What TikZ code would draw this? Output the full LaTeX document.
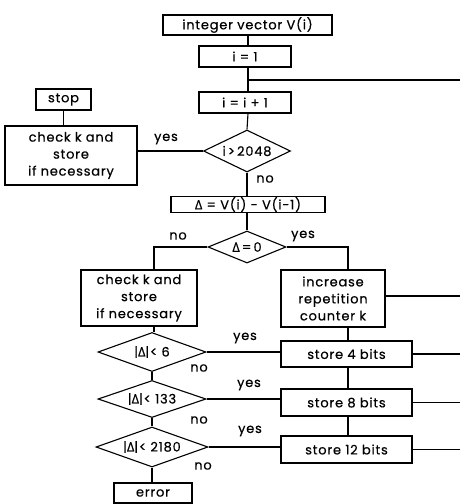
\documentclass[tikz,border=0pt]{standalone}
\usepackage{fontspec}
\setmainfont{Poppins}[LetterSpace=6,FakeBold=0.5]
\newfontfamily\grk{Open Sans}[LetterSpace=6,FakeBold=0.5]
\usetikzlibrary{shapes.geometric}
\newcommand{\Dl}{{\grk Δ}}
\newcommand{\mainfs}{\fontsize{13}{17}\selectfont}
\begin{document}
\begin{tikzpicture}[x=1pt,y=-1pt,
  box/.style={draw, line width=1.1pt, rectangle, inner sep=1pt, font=\mainfs, align=center},
  dia/.style={draw, line width=1.1pt, diamond, shape aspect=2.8, inner sep=0pt, font=\mainfs},
  lbl/.style={font=\mainfs, inner sep=0pt},
  conn/.style={line width=1.1pt}]
\useasboundingbox (0,0) rectangle (460,504);
% boxes
\node[box, minimum width=169pt, minimum height=20pt] (top) at (247.5,25) {integer vector V(i)};
\node[box, minimum width=92pt, minimum height=21pt] (i1) at (245,56.5) {i = 1};
\node[box, minimum width=92pt, minimum height=21pt] (i2) at (245,102.5) {i = i + 1};
\node[box, minimum width=55pt, minimum height=21pt] (stop) at (63.5,99.5) {stop};
\node[box, minimum width=132pt, minimum height=59pt] (checkA) at (71,155.5) {check k and\\store\\if necessary};
\node[dia, minimum width=87pt, minimum height=42pt] (d1) at (247,151) {i\,>\,2048};
\node[box, inner sep=0pt, minimum width=154pt, minimum height=16pt] (delta) at (248,204.5) {\Dl\ = V(i) - V(i-1)};
\node[dia, minimum width=78pt, minimum height=32pt] (d2) at (247,247) {\Dl\,=\,0};
\node[box, minimum width=116pt, minimum height=56pt] (checkB) at (139,298) {check k and\\store\\if necessary};
\node[box, minimum width=104pt, minimum height=57pt] (inc) at (333,298.5) {increase\\repetition\\counter k};
\node[box, minimum width=131pt, minimum height=26pt] (s4) at (346.5,354) {store 4 bits};
\node[box, minimum width=131pt, minimum height=27pt] (s8) at (346.5,402.5) {store 8 bits};
\node[box, minimum width=131pt, minimum height=27pt] (s12) at (346.5,449.5) {store 12 bits};
\node[dia, minimum width=108pt, minimum height=39pt] (d3) at (152,352) {|\Dl|< 6};
\node[dia, minimum width=108pt, minimum height=37pt] (d4) at (152,399) {|\Dl|< 133};
\node[dia, minimum width=112pt, minimum height=40pt] (d5) at (152,447) {|\Dl|< 2180};
\node[box, minimum width=78pt, minimum height=20pt] (err) at (153,493) {error};
% labels
\node[lbl] (yes1) at (166,139) {yes};
\node[lbl] (no1) at (265,179) {no};
\node[lbl] (no2) at (178,236) {no};
\node[lbl] (yes2) at (303,236) {yes};
\node[lbl] (yes3) at (245,338) {yes};
\node[lbl] (no3) at (199,368) {no};
\node[lbl] (yes4) at (249,385) {yes};
\node[lbl] (no4) at (199,420) {no};
\node[lbl] (yes5) at (250,431) {yes};
\node[lbl] (no5) at (203,466) {no};
% coordinates
\coordinate (j1) at (248,80);
\coordinate (r1) at (460,80);
\coordinate (rinc) at (460,296);
\coordinate (r4) at (460,354);
\coordinate (r8) at (460,402.5);
\coordinate (r12) at (460,449.5);
% connectors
\draw[conn] (top.south -| j1) -- (i1.north -| j1);
\draw[conn] (i1.south -| j1) -- (i2.north -| j1);
\draw[conn] (j1) -- (r1);
\draw[conn] (i2.south -| j1) -- (d1.north);
\draw[conn] (d1.west) -- (d1.west -| checkA.east);
\draw[conn] (stop.south) -- (stop.south |- checkA.north);
\draw[conn] (d1.south) -- (d1.south |- delta.north);
\draw[conn] (delta.south -| d2.north) -- (d2.north);
\draw[conn] (d2.west) -| (154,0 |- checkB.north);
\draw[conn] (d2.east) -| (348,0 |- inc.north);
\draw[conn] (154,0 |- checkB.south) -- (154,0 |- d3.north);
\draw[conn] (d3.south) -- (d4.north);
\draw[conn] (d4.south) -- (d5.north);
\draw[conn] (d5.south) -- (d5.south |- err.north);
\draw[conn] (348,0 |- inc.south) -- (348,0 |- s4.north);
\draw[conn] (348,0 |- s4.south) -- (348,0 |- s8.north);
\draw[conn] (348,0 |- s8.south) -- (348,0 |- s12.north);
\draw[conn] (d3.east) -- (d3.east -| s4.west);
\draw[conn] (d4.east) -- (d4.east -| s8.west);
\draw[conn] (d5.east) -- (d5.east -| s12.west);
\draw[conn] (rinc -| inc.east) -- (rinc);
\draw[conn] (s4.east) -- (r4);
\draw[conn] (s8.east) -- (r8);
\draw[conn] (s12.east) -- (r12);
\end{tikzpicture}
\end{document}
